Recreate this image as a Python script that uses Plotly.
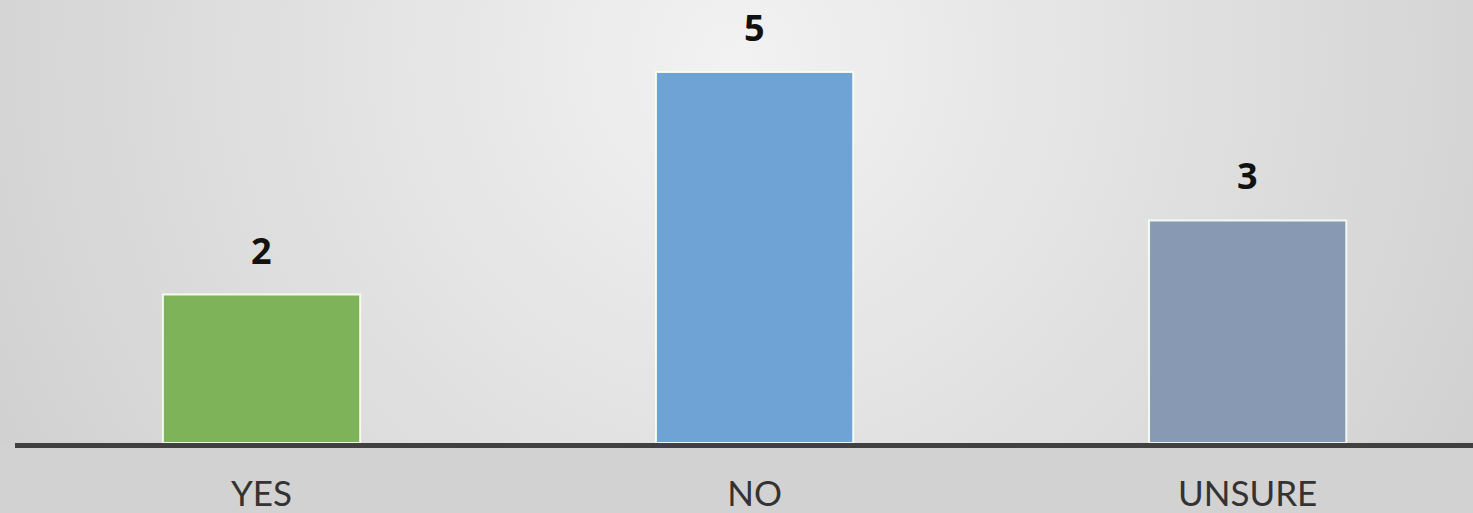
import plotly.graph_objects as go

categories = ["YES", "NO", "UNSURE"]
counts = [2, 5, 3]
bar_colors = ["#7eb35a", "#6fa3d6", "#8799b3"]

# radial grey gradient behind the chart, as an inline svg
bg_svg = (
    "data:image/svg+xml;utf8,"
    "<svg xmlns='http://www.w3.org/2000/svg' width='1473' height='513'>"
    "<defs><radialGradient id='g' cx='0.5' cy='0.25' r='0.75' "
    "gradientTransform='translate(0.5,0.25) scale(1,2.87) translate(-0.5,-0.25)'>"
    "<stop offset='0' stop-color='%23f2f2f2'/>"
    "<stop offset='1' stop-color='%23c6c6c6'/>"
    "</radialGradient></defs>"
    "<rect width='1473' height='513' fill='url(%23g)'/></svg>"
)

fig = go.Figure()
fig.add_trace(go.Bar(
    x=categories,
    y=counts,
    width=0.4,
    marker=dict(color=bar_colors, line=dict(color="rgba(250,255,245,0.9)", width=2)),
    hoverinfo="x+y",
))

for cat, val in zip(categories, counts):
    fig.add_annotation(
        x=cat, y=val, text=f"<b>{val}</b>", showarrow=False,
        yanchor="bottom", yshift=18,
        font=dict(family="Open Sans", size=36, color="#111111"),
    )

fig.add_layout_image(dict(
    source=bg_svg, xref="paper", yref="paper", x=-15 / 1458, y=513 / 445,
    sizex=1473 / 1458, sizey=513 / 445, xanchor="left", yanchor="top",
    sizing="stretch", layer="below",
))

fig.update_layout(
    width=1473,
    height=513,
    margin=dict(l=15, r=0, t=0, b=68),
    paper_bgcolor="#d2d2d2",
    plot_bgcolor="rgba(0,0,0,0)",
    showlegend=False,
    bargap=0.6,
)
fig.update_xaxes(
    range=[-0.5, 2.457],
    showline=True, linecolor="#404040", linewidth=5,
    ticks="outside", ticklen=16, tickcolor="rgba(0,0,0,0)",
    tickfont=dict(family="Lato", size=35, color="#333333"),
    showgrid=False,
)
fig.update_yaxes(range=[0, 5.97], visible=False, showgrid=False)

fig.write_html("out.html", config={"displayModeBar": False},
               post_script="document.body.style.margin='0';")
